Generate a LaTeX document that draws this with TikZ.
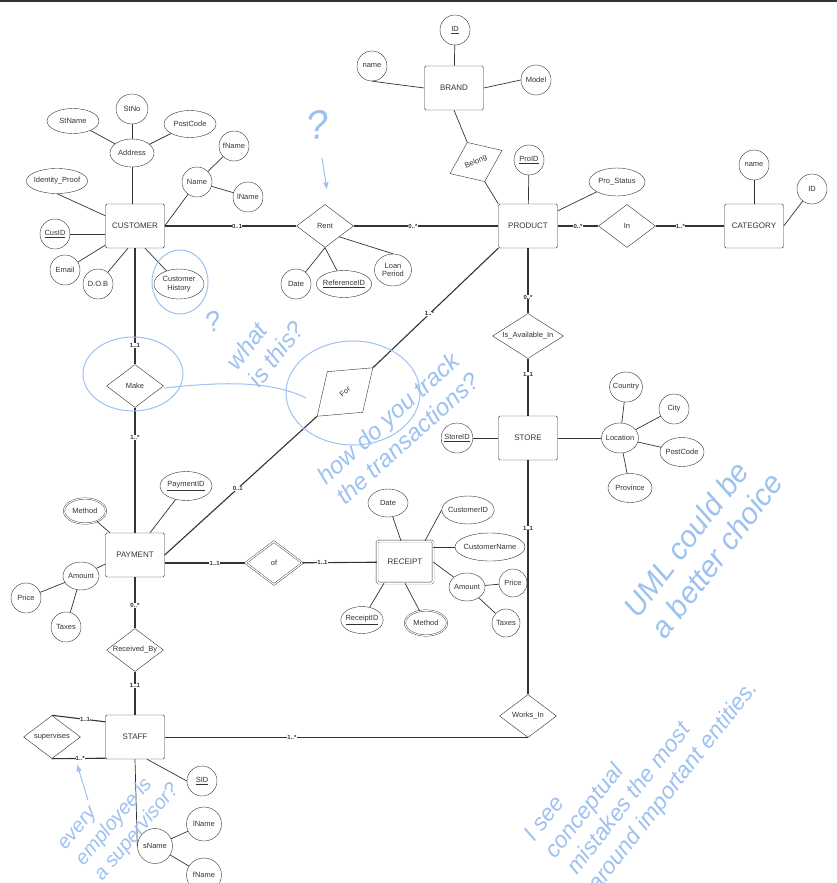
\documentclass[tikz,border=0pt]{standalone}
\usepackage{fontspec}
\setmainfont{Liberation Sans}
\usepackage{tikz}
\usetikzlibrary{arrows.meta,positioning,shapes.geometric}
\definecolor{ink}{HTML}{333333}
\definecolor{pen}{HTML}{9DC1F0}

\begin{document}
\begin{tikzpicture}[
        x=1pt, y=-1pt,
        entity/.style={draw=ink, rectangle, rounded corners=1.5pt, minimum width=59pt, minimum height=44pt, inner sep=1pt, text=ink, font=\fontsize{8}{9}\selectfont},
        weak/.style={entity, double, double distance=1.5pt},
        attr/.style={draw=ink, ellipse, inner sep=-1.5pt, text=ink, align=center, font=\fontsize{7.5}{8.5}\selectfont},
        circ/.style={attr, minimum width=30pt, minimum height=30pt},
        multi/.style={attr, double, double distance=1pt},
        rel/.style={draw=ink, diamond, aspect=1.33, inner sep=0pt, minimum width=57pt, minimum height=43pt, text=ink, font=\fontsize{7.5}{8.5}\selectfont},
        card/.style={fill=white, inner sep=0.2pt, text=ink, font=\fontsize{6}{6}\selectfont\bfseries},
        link/.style={draw=ink, line width=0.7pt},
        conn/.style={draw=ink, line width=1.1pt},
        note/.style={text=pen, align=left, font=\fontsize{24}{28}\selectfont\itshape},
        >=Latex
    ]
        \useasboundingbox (0,0) rectangle (837,883);
        \fill[ink] (0,0) rectangle (837,2.5);

        % entities
        \node[entity] (brand) at (454,88) {BRAND};
        \node[entity] (product) at (528,226) {PRODUCT};
        \node[entity] (category) at (754,226) {CATEGORY};
        \node[entity] (customer) at (135,226) {CUSTOMER};
        \node[entity] (store) at (528,438) {STORE};
        \node[entity] (payment) at (135,555) {PAYMENT};
        \node[weak, minimum width=56pt, minimum height=42pt] (receipt) at (405,562) {RECEIPT};
        \node[entity] (staff) at (135,737) {STAFF};

        % relationships
        \node[rel, rotate=24] (belong) at (476,162) {Belong};
        \node[rel] (rent) at (325,226) {Rent};
        \node[rel] (in) at (627,226) {In};
        \node[rel] (make) at (135,386) {Make};
        \node[rel, rotate=41, minimum width=74pt, minimum height=54pt] (forrel) at (345,392) {For};
        \node[rel, minimum width=71pt, minimum height=42pt] (avail) at (528,336) {Is\_Available\_In};
        \node[rel, double, double distance=1.2pt] (of) at (274,563) {of};
        \node[rel, inner xsep=-3pt] (recv) at (135,650) {Received\_By};
        \node[rel] (works) at (528,716) {Works\_In};
        \node[rel, inner xsep=-2pt] (super) at (52,737) {supervises};

        % attributes
        \node[circ] (brandid) at (455,30) {\underline{ID}};
        \node[circ] (brandname) at (372,66) {name};
        \node[circ] (model) at (536,80) {Model};
        \node[circ] (proid) at (529,160) {\underline{ProID}};
        \node[attr, minimum width=56pt, minimum height=28pt] (prostatus) at (617,182) {Pro\_Status};
        \node[circ] (catname) at (754,165) {name};
        \node[circ] (catid) at (812,189) {ID};

        \node[attr, minimum width=44pt, minimum height=28pt] (address) at (132,153) {Address};
        \node[attr, minimum width=32pt, minimum height=30pt] (stno) at (132,109) {StNo};
        \node[attr, minimum width=52pt, minimum height=25pt] (stname) at (73,121) {StName};
        \node[attr, minimum width=52pt, minimum height=27pt] (postcode) at (190,124) {PostCode};
        \node[attr, minimum width=55pt, minimum height=25pt] (idproof) at (57,181) {Identity\_Proof};
        \node[circ] (cusid) at (55,234) {\underline{CusID}};
        \node[circ] (email) at (65,270) {Email};
        \node[circ] (dob) at (98,284) {D.O.B};
        \node[attr, minimum width=50pt, minimum height=30pt] (history) at (179,284) {Customer\\History};
        \node[circ] (cname) at (197,182) {Name};
        \node[circ] (cfname) at (234,146) {fName};
        \node[circ] (clname) at (248,197) {lName};

        \node[circ] (rdate) at (296,284) {Date};
        \node[attr, minimum width=52pt, minimum height=27pt] (refid) at (344,284) {\underline{ReferenceID}};
        \node[attr, minimum width=37pt, minimum height=32pt] (loan) at (393,270) {Loan\\Period};

        \node[circ] (storeid) at (457,438) {\underline{StoreID}};
        \node[attr, minimum width=37pt, minimum height=30pt] (location) at (620,438) {Location};
        \node[circ] (country) at (626,387) {Country};
        \node[circ] (city) at (674,409) {City};
        \node[attr, minimum width=44pt, minimum height=29pt] (spost) at (682,452) {PostCode};
        \node[attr, minimum width=44pt, minimum height=29pt] (province) at (630,488) {Province};

        \node[attr, minimum width=52pt, minimum height=29pt] (payid) at (186,486) {\underline{PaymentID}};
        \node[multi, minimum width=42pt, minimum height=25pt] (pmethod) at (85,511) {Method};
        \node[attr, minimum width=36pt, minimum height=28pt] (pamount) at (81,576) {Amount};
        \node[circ] (pprice) at (26,598) {Price};
        \node[circ] (ptaxes) at (66,627) {Taxes};

        \node[attr, minimum width=40pt, minimum height=28pt] (rcdate) at (388,503) {Date};
        \node[attr, minimum width=52pt, minimum height=28pt] (rccusid) at (468,510) {CustomerID};
        \node[attr, minimum width=66pt, minimum height=28pt] (rcname) at (490,547) {CustomerName};
        \node[attr, minimum width=36pt, minimum height=28pt] (rcamount) at (467,587) {Amount};
        \node[circ, minimum width=28pt, minimum height=28pt] (rcprice) at (513,583) {Price};
        \node[circ, minimum width=28pt, minimum height=28pt] (rctaxes) at (506,623) {Taxes};
        \node[attr, minimum width=42pt, minimum height=27pt] (rcid) at (362,620) {\underline{ReceiptID}};
        \node[multi, minimum width=42pt, minimum height=25pt] (rcmethod) at (426,623) {Method};

        \node[circ] (sid) at (202,781) {\underline{SID}};
        \node[circ, minimum width=35pt, minimum height=35pt] (sname) at (155,846) {sName};
        \node[circ, minimum width=35pt, minimum height=34pt] (slname) at (204,824) {lName};
        \node[circ, minimum width=35pt, minimum height=34pt] (sfname) at (204,875) {fName};

        % attribute links
        \draw[link] (brandid) -- (brand);
        \draw[link] (brandname.south) -- (brand.west);
        \draw[link] (brand.east) -- (model.west);
        \draw[link] (brand.south) -- (belong.north);
        \draw[link] (belong.south) -- (product.north west);
        \draw[link] (proid) -- (product);
        \draw[link] ([yshift=-7pt]product.north east) -- (prostatus);
        \draw[link] (catname) -- (category);
        \draw[link] (category.east) -- (catid);

        \draw[link] (address) -- (address |- customer.north);
        \draw[link] (address) -- (stno);
        \draw[link] (address) -- (stname);
        \draw[link] (address) -- (postcode);
        \draw[link] (idproof.south) -- ([yshift=-12pt]customer.north west);
        \draw[link] (cusid) -- (cusid -| customer.west);
        \draw[link] (email) -- ([yshift=3pt]customer.south west);
        \draw[link] (dob) -- ([xshift=-7pt]customer.south);
        \draw[link] (history) -- ([xshift=10pt]customer.south);
        \draw[link] (customer.east) -- (cname);
        \draw[link] (cname) -- (cfname);
        \draw[link] (cname) -- (clname);

        \draw[link] (rent.south) -- (rdate);
        \draw[link] (rent.south) -- (refid);
        \draw[link] (rent.south east) -- (loan.north);

        \draw[link] (storeid) -- (store);
        \draw[link] (store) -- (location);
        \draw[link] (location) -- (country);
        \draw[link] (location) -- (city);
        \draw[link] (location) -- (spost);
        \draw[link] (location) -- (province);

        \draw[link] (payid) -- ([xshift=15pt]payment.north);
        \draw[link] (pmethod) -- ([xshift=-25pt]payment.north);
        \draw[link] (pamount) -- ([yshift=-9pt]payment.west);
        \draw[link] (pamount) -- (pprice);
        \draw[link] (pamount) -- (ptaxes);

        \draw[link] (rcdate) -- ([xshift=-4pt]receipt.north);
        \draw[link] (rccusid.west) -- ([xshift=20pt]receipt.north);
        \draw[link] (rcname.west) -- (rcname.west -| receipt.east);
        \draw[link] (receipt.east) -- (rcamount);
        \draw[link] (rcamount) -- (rcprice);
        \draw[link] (rcamount) -- (rctaxes);
        \draw[link] (rcid) -- ([xshift=-21pt]receipt.south);
        \draw[link] (rcmethod) -- (receipt.south);

        \draw[link] (sid.west) -- ([xshift=12pt]staff.south);
        \draw[link] (staff.south) -- (sname.west);
        \draw[link] (sname) -- (slname);
        \draw[link] (sname) -- (sfname);

        % relationship links
        \draw[conn] (customer) -- (rent) node[card, pos=.55] {0..1};
        \draw[conn] (rent) -- (product) node[card, pos=.41] {0..*};
        \draw[conn] (product) -- (in) node[card, midway] {0..*};
        \draw[conn] (in) -- (category) node[card, pos=.36] {1..*};
        \draw[conn] (customer) -- (make) node[card, pos=.84] {1..1};
        \draw[conn] (make) -- (payment) node[card, pos=.24] {1..*};
        \draw[conn] (product.south west) -- (forrel.east) node[card, pos=.55] {1..*};
        \draw[conn] (forrel.west) -- (payment.east) node[card, pos=.52] {0..1};
        \draw[conn] (payment.east |- of.west) -- (of.west) node[card, pos=.62] {1..1};
        \draw[conn] (of) -- (receipt) node[card, pos=.27] {1..1};
        \draw[conn] (product) -- (avail) node[card, pos=.75] {0..*};
        \draw[conn] (avail) -- (store) node[card, pos=.27] {1..1};
        \draw[conn] (store) -- (works) node[card, pos=.29] {1..1};
        \draw[conn] (works.south) -- (staff.east |- works.south) node[card, pos=.65] {1..*};
        \draw[conn] (payment) -- (recv) node[card, pos=.56] {0..*};
        \draw[conn] (recv) -- (staff) node[card, pos=.33] {1..1};
        \draw[conn] (super.north) -- ([yshift=-7pt]staff.north west) node[card, pos=.62] {1..1};
        \draw[conn] (super.south) -- ([yshift=1pt]staff.south west) node[card, pos=.53] {1..*};

        % review notes
        \draw[pen, line width=1pt] (180,282) ellipse [x radius=28, y radius=32];
        \draw[pen, line width=1pt] (133,374) ellipse [x radius=50, y radius=37];
        \draw[pen, line width=1pt] (164,388) .. controls (220,382) and (270,380) .. (306,398);
        \draw[pen, line width=1pt] (353,393) ellipse [x radius=67, y radius=52];
        \node[note, font=\fontsize{40}{40}\selectfont\itshape, rotate=10] (qtop) at (318,125) {?};
        \draw[pen, line width=1pt, ->] (322,158) -- (327,190);
        \node[note, font=\fontsize{28}{28}\selectfont\itshape, rotate=20] (qmake) at (213,322) {?};
        \node[note, rotate=52] (what) at (265,345) {what\\is this?};
        \node[note, rotate=42] (track) at (398,428) {how do you track\\the transactions?};
        \node[note, font=\fontsize{30}{34}\selectfont\itshape, rotate=53] (uml) at (703,545) {UML could be\\a better choice};
        \node[note, font=\fontsize{23}{27}\selectfont\itshape, rotate=52] (mistakes) at (642,762) {I see\\conceptual\\mistakes the most\\around important entities.};
        \node[note, font=\fontsize{20}{24}\selectfont\itshape, rotate=50] (every) at (120,818) {every\\employee is\\a supervisor?};
        \draw[pen, line width=1pt, ->] (88,800) -- (77,764);
    \end{tikzpicture}
\end{document}
